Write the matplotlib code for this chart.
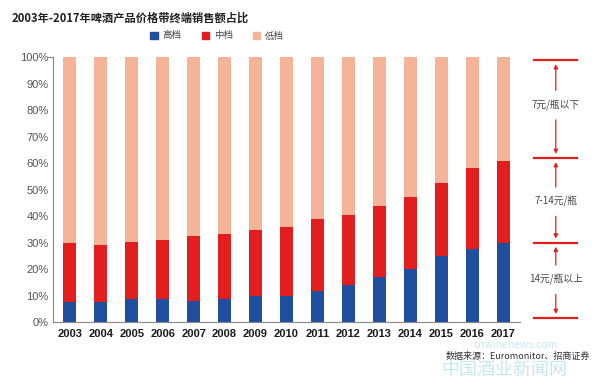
import numpy as np
import matplotlib
matplotlib.use("Agg")
import matplotlib.pyplot as plt

plt.rcParams['font.family'] = ['Noto Sans CJK SC', 'DejaVu Sans']

# 数据（读图估计，单位 %）
years = ['2003', '2004', '2005', '2006', '2007', '2008', '2009', '2010',
         '2011', '2012', '2013', '2014', '2015', '2016', '2017']
high = [7.5, 7.5, 8.6, 8.6, 8.1, 8.6, 9.9, 9.9, 11.8, 14.0, 17.2, 20.0, 25.0, 27.7, 29.7]
mid_top = [29.8, 29.2, 30.2, 31.1, 32.5, 33.3, 34.7, 36.1, 39.0, 40.6, 44.0, 47.3, 52.7, 58.2, 60.9]
mid = [t - h for t, h in zip(mid_top, high)]
low = [100 - t for t in mid_top]

series_names = ['高档', '中档', '低档']
colors = ['#1f4e9e', '#e31e1e', '#f5b497']

band_labels = ['7元/瓶以下', '7-14元/瓶', '14元/瓶以上']

fig = plt.figure(figsize=(6, 3.78), dpi=100)
ax = fig.add_axes([0.088, 0.148, 0.779, 0.70])

x = np.arange(len(years))
w = 0.43
ax.bar(x, high, w, color=colors[0], label=series_names[0])
ax.bar(x, mid, w, bottom=high, color=colors[1], label=series_names[1])
ax.bar(x, low, w, bottom=mid_top, color=colors[2], label=series_names[2])

ax.set_xlim(-0.55, len(years) - 0.45)
ax.set_ylim(0, 100)
ax.set_yticks(np.arange(0, 101, 10))
ax.set_yticklabels([f'{v}%' for v in range(0, 101, 10)], color='#555555', fontsize=8,
                   family='Liberation Sans')
ax.set_xticks(x)
ax.set_xticklabels(years, fontsize=8, color='#1a1a1a', fontweight='bold',
                   family='Liberation Sans')
ax.tick_params(axis='both', length=0, pad=3)
ax.tick_params(axis='x', pad=5)
for s in ['top', 'right']:
    ax.spines[s].set_visible(False)
for s in ['left', 'bottom']:
    ax.spines[s].set_color('#888888')
    ax.spines[s].set_linewidth(0.8)
# 100% 处的小刻度
ax.plot([-0.55, -0.7], [100, 100], color='#888888', lw=0.8, clip_on=False)

# 标题
fig.text(0.02, 0.952, '2003年-2017年啤酒产品价格带终端销售额占比', fontsize=8.1,
         fontweight='bold', color='#222222', va='center')

# 图例
handles = [plt.Rectangle((0, 0), 1, 1, color=c) for c in colors]
fig.legend(handles, series_names, loc='center', bbox_to_anchor=(0.362, 0.905),
           ncol=3, frameon=False, fontsize=6.8, handlelength=0.8, handleheight=0.8,
           columnspacing=2.1, handletextpad=0.5, labelcolor='#444444')

# 右侧价格带标注
red = '#e31e1e'
line_y = [99, 62, 30, 1.5]
for yv in line_y:
    ax.plot([15.0, 16.4], [yv, yv], color=red, lw=1.6, clip_on=False)
xa = 15.7
text_y = [82, 45.5, 16]
for i, lab in enumerate(band_labels):
    top, bot = line_y[i], line_y[i + 1]
    ty = text_y[i]
    ax.text(xa, ty, lab, fontsize=7, color='#444444', ha='center', va='center')
    ax.annotate('', xy=(xa, top - 0.5), xytext=(xa, ty + 4.5),
                arrowprops=dict(arrowstyle='-|>', color=red, lw=0.9, mutation_scale=6),
                annotation_clip=False)
    ax.annotate('', xy=(xa, bot + 0.5), xytext=(xa, ty - 4.5),
                arrowprops=dict(arrowstyle='-|>', color=red, lw=0.9, mutation_scale=6),
                annotation_clip=False)

# 水印与来源
fig.text(0.86, 0.086, 'cnwinenews.com', fontsize=7.5, color='#c6e8f0', ha='center',
         va='center')
fig.text(0.84, 0.02, '中国酒业新闻网', fontsize=13, color='#c6e8f0', ha='center',
         va='center')
fig.text(0.983, 0.058, '数据来源：Euromonitor、招商证券', fontsize=6.5, color='#333333',
         ha='right', va='center')

fig.savefig('out.png', dpi=100)
